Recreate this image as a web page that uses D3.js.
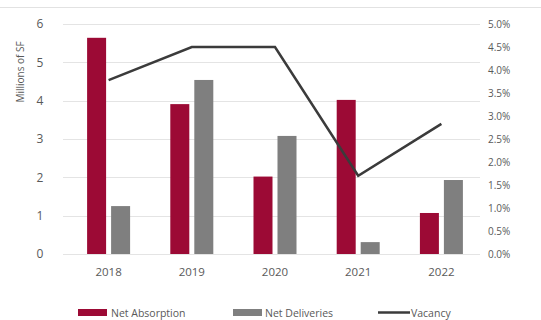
<!DOCTYPE html>
<html>
<head>
<meta charset="utf-8">
<script src="https://cdn.jsdelivr.net/npm/d3@7"></script>
<style>
  body { margin: 0; background: #fff; }
  text { font-family: "Open Sans", sans-serif; fill: #595959; }
</style>
</head>
<body>
<div id="main"></div>
<script>
// chart values
var years = ["2018", "2019", "2020", "2021", "2022"];
var netAbsorption = [5.64, 3.91, 2.02, 4.02, 1.07];
var netDeliveries = [1.25, 4.54, 3.08, 0.31, 1.93];
var vacancy = [0.0378, 0.045, 0.045, 0.017, 0.0283];
var leftTicks = [0, 1, 2, 3, 4, 5, 6];
var rightTicks = [0, 0.005, 0.01, 0.015, 0.02, 0.025, 0.03, 0.035, 0.04, 0.045, 0.05];

var width = 541, height = 320;
var red = "#9c0a35", gray = "#7f7f7f", lineColor = "#3b3b3b";

var svg = d3.select("#main").append("svg")
  .attr("width", width)
  .attr("height", height);

// faint top border
svg.append("line")
  .attr("x1", 0).attr("x2", width)
  .attr("y1", 7.5).attr("y2", 7.5)
  .attr("stroke", "#e2e2e2");

var x = d3.scaleBand()
  .domain(years)
  .range([67, 483]);

var y = d3.scaleLinear()
  .domain([0, 6])
  .range([254, 24]);

var y2 = d3.scaleLinear()
  .domain([0, 0.05])
  .range([254, 24]);

// gridlines
svg.append("g")
  .selectAll("line")
  .data(leftTicks)
  .enter()
  .append("line")
    .attr("x1", 63).attr("x2", 480)
    .attr("y1", function(d) { return Math.round(y(d)) + 0.5; })
    .attr("y2", function(d) { return Math.round(y(d)) + 0.5; })
    .attr("stroke", "#e4e4e4");

// left axis
var leftAxis = svg.append("g")
  .attr("transform", "translate(46,0)")
  .call(d3.axisLeft(y).tickValues(leftTicks).tickSize(0).tickPadding(0).tickFormat(d3.format("d")));
leftAxis.select(".domain").remove();
leftAxis.selectAll("text").style("font-size", "12px").attr("text-anchor", "middle").attr("x", -6);

// right axis
var rightAxis = svg.append("g")
  .attr("transform", "translate(488,0)")
  .call(d3.axisRight(y2).tickValues(rightTicks).tickSize(0).tickPadding(0).tickFormat(d3.format(".1%")));
rightAxis.select(".domain").remove();
rightAxis.selectAll("text").style("font-size", "10px");

// x axis labels
var xAxis = svg.append("g")
  .attr("transform", "translate(0,268)")
  .call(d3.axisBottom(x).tickSize(0).tickPadding(0));
xAxis.select(".domain").remove();
xAxis.selectAll("text").style("font-size", "11.5px").attr("dy", "0.71em");

// y title
svg.append("text")
  .attr("transform", "translate(24,72) rotate(-90)")
  .attr("text-anchor", "middle")
  .style("font-size", "10px")
  .text("Millions of SF");

var barW = 19, gap = 5;

svg.append("g")
  .selectAll("rect")
  .data(netAbsorption)
  .enter()
  .append("rect")
    .attr("x", function(d, i) { return x(years[i]) + x.bandwidth() / 2 - gap / 2 - barW; })
    .attr("y", function(d) { return y(d); })
    .attr("width", barW)
    .attr("height", function(d) { return y(0) - y(d); })
    .attr("fill", red);

svg.append("g")
  .selectAll("rect")
  .data(netDeliveries)
  .enter()
  .append("rect")
    .attr("x", function(d, i) { return x(years[i]) + x.bandwidth() / 2 + gap / 2; })
    .attr("y", function(d) { return y(d); })
    .attr("width", barW)
    .attr("height", function(d) { return y(0) - y(d); })
    .attr("fill", gray);

// vacancy line
var line = d3.line()
  .x(function(d, i) { return x(years[i]) + x.bandwidth() / 2; })
  .y(function(d) { return y2(d); });

svg.append("path")
  .datum(vacancy)
  .attr("d", line)
  .attr("fill", "none")
  .attr("stroke", lineColor)
  .attr("stroke-width", 2.5);

// legend
var legend = svg.append("g");
legend.append("rect").attr("x", 78).attr("y", 309).attr("width", 29).attr("height", 7).attr("fill", red);
legend.append("text").attr("x", 111).attr("y", 316.5).style("font-size", "10.5px").text("Net Absorption");
legend.append("rect").attr("x", 233).attr("y", 309).attr("width", 29).attr("height", 7).attr("fill", gray);
legend.append("text").attr("x", 265).attr("y", 316.5).style("font-size", "10.5px").text("Net Deliveries");
legend.append("line").attr("x1", 378).attr("x2", 410).attr("y1", 312.5).attr("y2", 312.5)
  .attr("stroke", lineColor).attr("stroke-width", 2.5);
legend.append("text").attr("x", 411).attr("y", 316.5).style("font-size", "10.5px").text("Vacancy");
</script>
</body>
</html>
